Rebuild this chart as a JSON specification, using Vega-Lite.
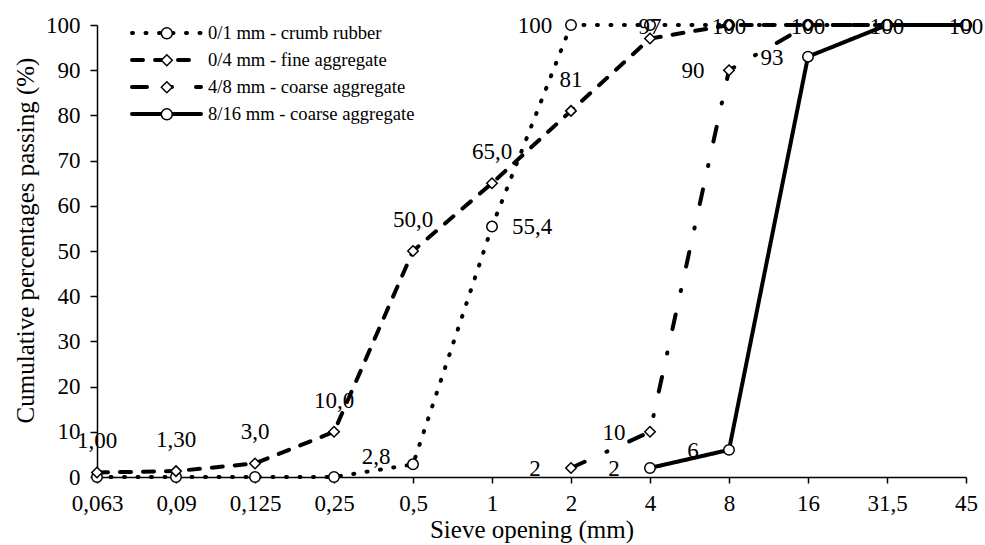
{
  "$schema": "https://vega.github.io/schema/vega-lite/v6.json",
  "width": 869,
  "height": 452,
  "autosize": {"type": "none"},
  "padding": {"left": 97, "top": 25, "right": 19, "bottom": 68},
  "background": "white",
  "config": {
    "view": {"stroke": null},
    "font": "Liberation Serif",
    "axis": {
      "labelFont": "Liberation Serif",
      "titleFont": "Liberation Serif",
      "labelColor": "black",
      "titleColor": "black",
      "domainColor": "black",
      "tickColor": "black",
      "domainWidth": 1.5,
      "tickWidth": 1.5,
      "grid": false,
      "titleFontWeight": "normal",
      "labelFontSize": 23,
      "titleFontSize": 25
    },
    "legend": {"labelFont": "Liberation Serif", "padding": 0}
  },
  "data": {
    "values": [
      {"series": "0/1 mm - crumb rubber", "sieve": "0,063", "pass": 0},
      {"series": "0/1 mm - crumb rubber", "sieve": "0,09", "pass": 0},
      {"series": "0/1 mm - crumb rubber", "sieve": "0,125", "pass": 0},
      {"series": "0/1 mm - crumb rubber", "sieve": "0,25", "pass": 0},
      {"series": "0/1 mm - crumb rubber", "sieve": "0,5", "pass": 2.8, "label": "2,8"},
      {"series": "0/1 mm - crumb rubber", "sieve": "1", "pass": 55.4, "label": "55,4"},
      {"series": "0/1 mm - crumb rubber", "sieve": "2", "pass": 100, "label": "100"},
      {"series": "0/1 mm - crumb rubber", "sieve": "4", "pass": 100},
      {"series": "0/1 mm - crumb rubber", "sieve": "8", "pass": 100},
      {"series": "0/1 mm - crumb rubber", "sieve": "16", "pass": 100},
      {"series": "0/1 mm - crumb rubber", "sieve": "31,5", "pass": 100},
      {"series": "0/1 mm - crumb rubber", "sieve": "45", "pass": 100},
      {"series": "0/4 mm - fine aggregate", "sieve": "0,063", "pass": 1.0, "label": "1,00"},
      {"series": "0/4 mm - fine aggregate", "sieve": "0,09", "pass": 1.3, "label": "1,30"},
      {"series": "0/4 mm - fine aggregate", "sieve": "0,125", "pass": 3.0, "label": "3,0"},
      {"series": "0/4 mm - fine aggregate", "sieve": "0,25", "pass": 10.0, "label": "10,0"},
      {"series": "0/4 mm - fine aggregate", "sieve": "0,5", "pass": 50.0, "label": "50,0"},
      {"series": "0/4 mm - fine aggregate", "sieve": "1", "pass": 65.0, "label": "65,0"},
      {"series": "0/4 mm - fine aggregate", "sieve": "2", "pass": 81, "label": "81"},
      {"series": "0/4 mm - fine aggregate", "sieve": "4", "pass": 97, "label": "97"},
      {"series": "0/4 mm - fine aggregate", "sieve": "8", "pass": 100, "label": "100"},
      {"series": "0/4 mm - fine aggregate", "sieve": "16", "pass": 100},
      {"series": "0/4 mm - fine aggregate", "sieve": "31,5", "pass": 100},
      {"series": "0/4 mm - fine aggregate", "sieve": "45", "pass": 100},
      {"series": "4/8 mm - coarse aggregate", "sieve": "2", "pass": 2, "label": "2"},
      {"series": "4/8 mm - coarse aggregate", "sieve": "4", "pass": 10, "label": "10"},
      {"series": "4/8 mm - coarse aggregate", "sieve": "8", "pass": 90, "label": "90"},
      {"series": "4/8 mm - coarse aggregate", "sieve": "16", "pass": 100, "label": "100"},
      {"series": "4/8 mm - coarse aggregate", "sieve": "31,5", "pass": 100},
      {"series": "4/8 mm - coarse aggregate", "sieve": "45", "pass": 100},
      {"series": "8/16 mm - coarse aggregate", "sieve": "4", "pass": 2, "label": "2"},
      {"series": "8/16 mm - coarse aggregate", "sieve": "8", "pass": 6, "label": "6"},
      {"series": "8/16 mm - coarse aggregate", "sieve": "16", "pass": 93, "label": "93"},
      {"series": "8/16 mm - coarse aggregate", "sieve": "31,5", "pass": 100, "label": "100"},
      {"series": "8/16 mm - coarse aggregate", "sieve": "45", "pass": 100, "label": "100"}
    ]
  },
  "encoding": {
    "x": {
      "field": "sieve",
      "type": "ordinal",
      "sort": ["0,063", "0,09", "0,125", "0,25", "0,5", "1", "2", "4", "8", "16", "31,5", "45"],
      "scale": {"type": "point", "padding": 0},
      "axis": {
        "title": "Sieve opening (mm)",
        "labelAngle": 0,
        "tickSize": 6,
        "labelPadding": 9,
        "titleY": 40,
        "titleBaseline": "top"
      }
    },
    "y": {
      "field": "pass",
      "type": "quantitative",
      "scale": {"domain": [0, 100], "nice": false},
      "axis": {
        "title": "Cumulative percentages passing (%)",
        "values": [0, 10, 20, 30, 40, 50, 60, 70, 80, 90, 100],
        "tickSize": 7,
        "labelPadding": 10,
        "titlePadding": 7,
        "titleY": 215
      }
    }
  },
  "layer": [
    {
      "mark": {"type": "line", "color": "black", "strokeWidth": 4, "strokeCap": "round"},
      "encoding": {
        "strokeDash": {
          "field": "series",
          "type": "nominal",
          "scale": {
            "domain": ["0/1 mm - crumb rubber", "0/4 mm - fine aggregate", "4/8 mm - coarse aggregate", "8/16 mm - coarse aggregate"],
            "range": [[1, 12.5], [11, 12], [15, 24, 1, 24], [1, 0]]
          },
          "legend": {
            "title": null,
            "orient": "none",
            "legendX": 60.2,
            "legendY": -1.3,
            "symbolType": "M-6.9,0H6.9",
            "symbolSize": 100,
            "symbolStrokeWidth": 4,
            "symbolStrokeColor": "black",
            "labelFont": "Liberation Serif",
            "labelFontSize": 18.6,
            "labelColor": "black",
            "labelOffset": 32.2,
            "labelLimit": 400,
            "rowPadding": 8,
            "encoding": {"symbols": {"strokeCap": {"value": "round"}}}
          }
        }
      }
    },
    {
      "mark": {"type": "point", "filled": true, "fill": "white", "stroke": "black", "strokeWidth": 1.5, "size": 110, "opacity": 1},
      "encoding": {
        "shape": {
          "field": "series",
          "type": "nominal",
          "scale": {"range": ["circle", "diamond", "diamond", "circle"]},
          "legend": {
            "title": null,
            "orient": "top-left",
            "offset": -1.3,
            "symbolOffset": 61.5,
            "symbolSize": 120,
            "symbolStrokeWidth": 1.5,
            "labelFont": "Liberation Serif",
            "labelFontSize": 18.6,
            "labelExpr": "''",
            "labelLimit": 400,
            "rowPadding": 8
          }
        }
      }
    },
    {
      "transform": [{"filter": "datum.label && datum.series == '0/4 mm - fine aggregate' && datum.pass < 95"}],
      "mark": {"type": "text", "font": "Liberation Serif", "fontSize": 23, "color": "black", "baseline": "middle", "dy": -31},
      "encoding": {"text": {"field": "label"}}
    },
    {
      "transform": [{"filter": "datum.label && datum.pass >= 95 && datum.series != '0/1 mm - crumb rubber'"}],
      "mark": {"type": "text", "font": "Liberation Serif", "fontSize": 23, "color": "black", "baseline": "middle", "dy": 2},
      "encoding": {"text": {"field": "label"}, "y": {"datum": 100}}
    },
    {
      "transform": [{"filter": "datum.label && datum.series != '0/4 mm - fine aggregate' && !(datum.pass >= 95 && datum.series != '0/1 mm - crumb rubber') && datum.sieve != '1' && !(datum.series == '0/1 mm - crumb rubber' && datum.pass < 50)"}],
      "mark": {"type": "text", "font": "Liberation Serif", "fontSize": 23, "color": "black", "baseline": "middle", "dx": -36, "dy": 1},
      "encoding": {"text": {"field": "label"}}
    },
    {
      "transform": [{"filter": "datum.label && datum.series == '0/1 mm - crumb rubber' && datum.pass < 50 && datum.sieve != '1'"}],
      "mark": {"type": "text", "font": "Liberation Serif", "fontSize": 23, "color": "black", "baseline": "middle", "dx": -37, "dy": -7},
      "encoding": {"text": {"field": "label"}}
    },
    {
      "transform": [{"filter": "datum.label && datum.series == '0/1 mm - crumb rubber' && datum.sieve == '1'"}],
      "mark": {"type": "text", "font": "Liberation Serif", "fontSize": 23, "color": "black", "baseline": "middle", "dx": 40},
      "encoding": {"text": {"field": "label"}}
    }
  ]
}
